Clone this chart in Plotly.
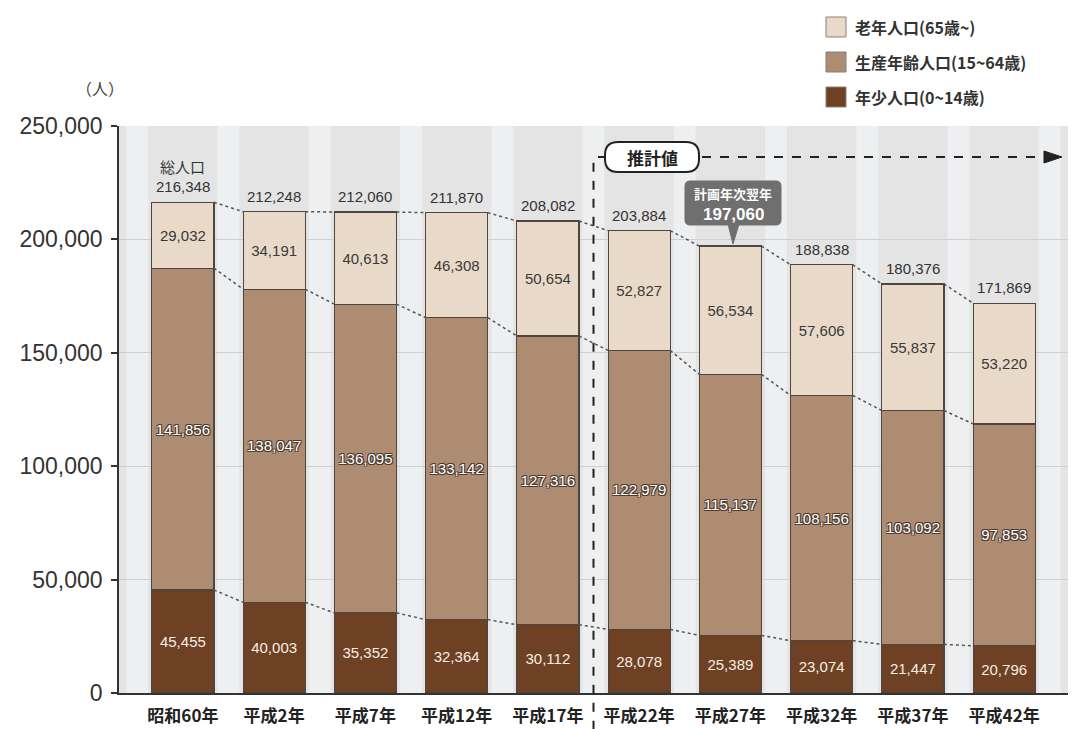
import plotly.graph_objects as go

# ---------------- data ----------------
categories = ["昭和60年", "平成2年", "平成7年", "平成12年", "平成17年",
              "平成22年", "平成27年", "平成32年", "平成37年", "平成42年"]
young = [45455, 40003, 35352, 32364, 30112, 28078, 25389, 23074, 21447, 20796]
working = [141856, 138047, 136095, 133142, 127316, 122979, 115137, 108156, 103092, 97853]
elderly = [29032, 34191, 40613, 46308, 50654, 52827, 56534, 57606, 55837, 53220]
total_labels = [216348, 212248, 212060, 211870, 208082, 203884, 197060, 188838, 180376, 171869]
series_names = ["年少人口(0~14歳)", "生産年齢人口(15~64歳)", "老年人口(65歳~)"]
y_ticks = [0, 50000, 100000, 150000, 200000, 250000]
callout_title = "計画年次翌年"
callout_index = 6
estimate_label = "推計値"
estimate_start = 5
unit_label = "（人）"
total_title = "総人口"

# ---------------- style ----------------
colors = ["#6f4124", "#ad8c72", "#e9d9c8"]
W, H = 1074, 729
ML, MR, MT, MB = 119, 6, 126, 36
PW, PH = W - ML - MR, H - MT - MB
NUM_FONT = "Liberation Sans, Arial, sans-serif"
CJK_FONT = "Noto Sans CJK JP, sans-serif"
BAR_W = 0.68


def P(x, y):
    """pixel -> paper coordinate string"""
    return f"{(x - ML) / PW:.5f},{(H - MB - y) / PH:.5f}"


def px_x(x):
    return (x - ML) / PW


def px_y(y):
    return (H - MB - y) / PH


def rounded_path(x0, y0, x1, y1, r):
    return (f"M{P(x0 + r, y0)} L{P(x1 - r, y0)} Q{P(x1, y0)} {P(x1, y0 + r)} "
            f"L{P(x1, y1 - r)} Q{P(x1, y1)} {P(x1 - r, y1)} L{P(x0 + r, y1)} "
            f"Q{P(x0, y1)} {P(x0, y1 - r)} L{P(x0, y0 + r)} Q{P(x0, y0)} {P(x0 + r, y0)} Z")


fig = go.Figure()
seg_values = [young, working, elderly]
text_styles = [
    dict(family=NUM_FONT, size=15, color="#f6ede2"),
    dict(family=NUM_FONT, size=15, color="#ffffff",
         shadow="1px 1px 0 #4a3a30, -1px -1px 0 #4a3a30, 1px -1px 0 #4a3a30, -1px 1px 0 #4a3a30"),
    dict(family=NUM_FONT, size=15, color="#3a3a3a"),
]
for vals, name, col, tf in zip(seg_values, series_names, colors, text_styles):
    fig.add_trace(go.Bar(
        x=categories, y=vals, name=name, width=BAR_W,
        marker=dict(color=col, line=dict(color="#4d4540", width=1.2)),
        texttemplate="%{y:,}", textposition="inside", insidetextanchor="middle",
        textangle=0, constraintext="none", textfont=tf,
        showlegend=False, hoverinfo="x+y+name",
    ))

shapes = []
annotations = []

# lighter gaps between bars
for i in range(len(categories) + 1):
    shapes.append(dict(type="rect", xref="x", yref="paper", layer="below",
                       x0=i - 1 + BAR_W / 2 + 0.04, x1=i - BAR_W / 2 - 0.04, y0=0, y1=1,
                       fillcolor="#eeeff1", line=dict(width=0)))

# cumulative levels
cum1 = young
cum2 = [a + b for a, b in zip(young, working)]
cum3 = [a + b + c for a, b, c in zip(young, working, elderly)]
for level in (cum1, cum2, cum3):
    for i in range(len(categories) - 1):
        shapes.append(dict(type="line", xref="x", yref="y",
                           x0=i + BAR_W / 2, y0=level[i], x1=i + 1 - BAR_W / 2, y1=level[i + 1],
                           line=dict(color="#555555", width=1.5, dash="dot")))

# total labels
for i, (cat, top, lab) in enumerate(zip(categories, cum3, total_labels)):
    if i == callout_index:
        continue
    annotations.append(dict(x=cat, y=top, xref="x", yref="y", text=f"{lab:,}",
                            showarrow=False, xanchor="center", yanchor="bottom", yshift=5,
                            font=dict(family=NUM_FONT, size=15, color="#333333")))
annotations.append(dict(x=categories[0], y=cum3[0], xref="x", yref="y", text=total_title,
                        showarrow=False, xanchor="center", yanchor="bottom", yshift=23,
                        font=dict(family=CJK_FONT, size=15, color="#333333")))

# estimate divider
xdiv = estimate_start - 0.5
shapes.append(dict(type="line", xref="x", yref="paper", x0=xdiv, x1=xdiv,
                   y0=-0.065, y1=px_y(157),
                   line=dict(color="#222222", width=2, dash="dash")))
shapes.append(dict(type="line", xref="paper", yref="paper",
                   x0=px_x(598), x1=px_x(605), y0=px_y(157), y1=px_y(157),
                   line=dict(color="#222222", width=2)))
shapes.append(dict(type="path", xref="paper", yref="paper",
                   path=rounded_path(605, 142, 699, 172, 13),
                   fillcolor="#ffffff", line=dict(color="#222222", width=2)))
annotations.append(dict(x=px_x(652), y=px_y(157), xref="paper", yref="paper",
                        xanchor="center", yanchor="middle",
                        text=f"<b>{estimate_label}</b>", showarrow=False,
                        font=dict(family=CJK_FONT, size=17, color="#222222")))
shapes.append(dict(type="line", xref="paper", yref="paper",
                   x0=px_x(702), x1=px_x(1046), y0=px_y(157), y1=px_y(157),
                   line=dict(color="#222222", width=2, dash="dash")))
shapes.append(dict(type="path", xref="paper", yref="paper",
                   path=f"M{P(1044, 151)} L{P(1062, 157)} L{P(1044, 163)} Z",
                   fillcolor="#222222", line=dict(color="#222222", width=1)))

# callout for plan year
shapes.append(dict(type="path", xref="paper", yref="paper",
                   path=rounded_path(685, 181, 781, 225, 5),
                   fillcolor="#6f6f6f", line=dict(color="#6f6f6f", width=1)))
shapes.append(dict(type="path", xref="paper", yref="paper",
                   path=f"M{P(728, 224)} L{P(739, 224)} L{P(733, 244)} Z",
                   fillcolor="#6f6f6f", line=dict(color="#6f6f6f", width=1)))
annotations.append(dict(x=px_x(733), y=px_y(193), xref="paper", yref="paper",
                        xanchor="center", yanchor="middle",
                        text=f"<b>{callout_title}</b>", showarrow=False,
                        font=dict(family=CJK_FONT, size=13, color="#ffffff")))
annotations.append(dict(x=px_x(733), y=px_y(214), xref="paper", yref="paper",
                        xanchor="center", yanchor="middle",
                        text=f"<b>{total_labels[callout_index]:,}</b>", showarrow=False,
                        font=dict(family=NUM_FONT, size=17, color="#ffffff")))

# unit label
annotations.append(dict(x=px_x(100), y=px_y(88), xref="paper", yref="paper",
                        xanchor="center", yanchor="middle",
                        text=unit_label, showarrow=False,
                        font=dict(family=CJK_FONT, size=16, color="#444444")))

# manual legend (top right), elderly first
legend_rows = [(2, 27), (1, 62), (0, 97)]
for idx, yc in legend_rows:
    shapes.append(dict(type="rect", xref="paper", yref="paper",
                       x0=px_x(826), x1=px_x(846), y0=px_y(yc + 10), y1=px_y(yc - 10),
                       fillcolor=colors[idx], line=dict(color="#8a8078", width=1)))
    annotations.append(dict(x=px_x(853), y=px_y(yc), xref="paper", yref="paper",
                            xanchor="left", yanchor="middle",
                            text=f"<b>{series_names[idx]}</b>", showarrow=False,
                            font=dict(family=CJK_FONT, size=16, color="#333333")))

fig.update_layout(
    width=W, height=H,
    margin=dict(l=ML, r=MR, t=MT, b=MB, pad=0, autoexpand=False),
    barmode="stack",
    bargap=1 - BAR_W,
    paper_bgcolor="#ffffff",
    plot_bgcolor="#e4e4e5",
    shapes=shapes,
    annotations=annotations,
    showlegend=False,
    xaxis=dict(
        range=[-0.7, len(categories) - 0.3],
        showline=True, linecolor="#333333", linewidth=1.5,
        showgrid=False, ticks="", ticklabelstandoff=7, automargin=False,
        tickfont=dict(family=CJK_FONT, size=17, color="#222222", weight="bold"),
        fixedrange=True,
    ),
    yaxis=dict(
        range=[0, 250000], tickvals=y_ticks, tickformat=",",
        showline=True, linecolor="#333333", linewidth=1.5,
        ticks="outside", ticklen=6, tickcolor="#333333", tickwidth=1.5,
        ticklabelstandoff=4, automargin=False,
        showgrid=True, gridcolor="#cfcfcf", gridwidth=1,
        zeroline=False,
        tickfont=dict(family=NUM_FONT, size=23, color="#333333"),
        fixedrange=True,
    ),
)

fig.write_html("out.html")
